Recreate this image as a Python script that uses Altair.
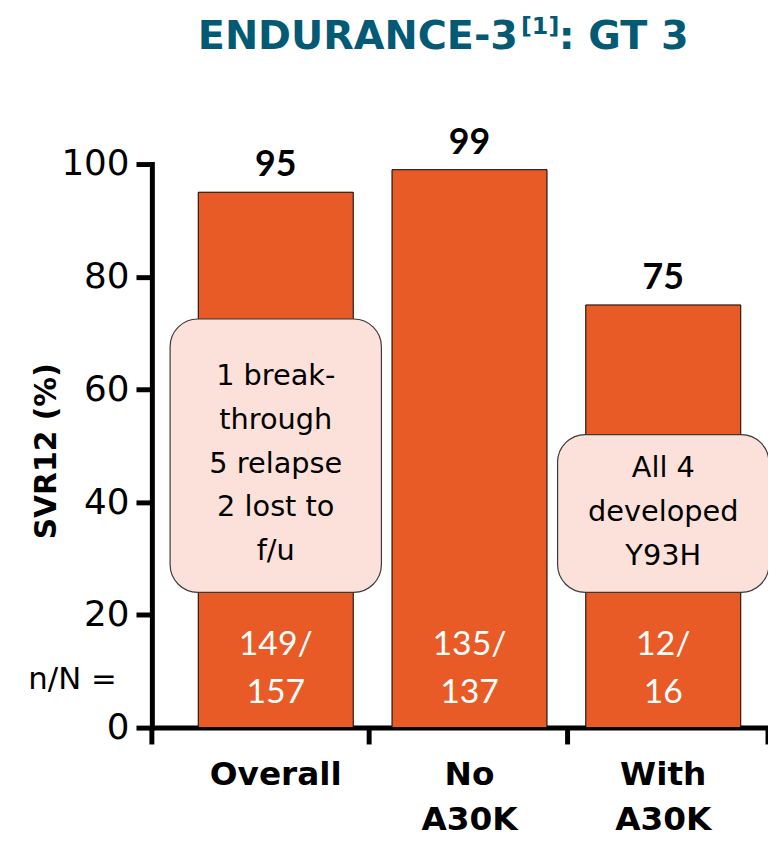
import altair as alt
import pandas as pd

# ---- data ----
categories = ["Overall", "No A30K", "With A30K"]
svr12 = [95, 99, 75]
n_resp = [149, 135, 12]
n_total = [157, 137, 16]

note_cats = ["Overall", "With A30K"]
note_lines = [["1 break-", "through", "5 relapse", "2 lost to", "f/u"],
              ["All 4", "developed", "Y93H"]]
note_low = [24, 24]
note_high = [72.5, 52]
note_first_line = [62.3, 46.0]

y_ticks = [0, 20, 40, 60, 80, 100]
title_parts = ["ENDURANCE-3", "[1]", ": GT 3"]
row_label = "n/N ="

# ---- styling ----
W, H = 621, 568
BAR = "#E85B26"
BOX_FILL = "#FBE1D9"
TEAL = "#035A74"
SANS = "DejaVu Sans"

bars_df = pd.DataFrame({
    "cat": categories,
    "svr": svr12,
    "nn": [[f"{a}/", f"{b}"] for a, b in zip(n_resp, n_total)],
})
notes_df = pd.DataFrame({
    "cat": note_cats, "lo": note_low, "hi": note_high,
    "first": note_first_line, "txt": note_lines,
})

xscale = alt.Scale(domain=categories, paddingInner=0.2, paddingOuter=0.19, align=0.63)
yscale = alt.Scale(domain=[0, 100], nice=False)

x_enc = alt.X("cat:N", scale=xscale, sort=categories, axis=alt.Axis(
    title=None, labelAngle=0, ticks=False, domainWidth=5, domainColor="black",
    domainCap="square", labelFont=SANS, labelFontWeight="bold", labelFontSize=33,
    labelColor="black", labelPadding=31, labelLineHeight=46,
    labelExpr="split(datum.label, ' ')", labelBaseline="top"))

y_enc = alt.Y("svr:Q", scale=yscale, axis=alt.Axis(
    values=y_ticks, title="SVR12 (%)", titleFont=SANS, titleFontSize=30,
    titleFontWeight="bold", titleColor="black", titleAngle=270, titleX=-106,
    titleY=289, titleAlign="center", titleBaseline="middle",
    labelFont=SANS, labelFontSize=36, labelColor="black", labelPadding=7,
    tickSize=16, tickWidth=5, tickColor="black", domainWidth=5,
    domainColor="black", domainCap="square", grid=False, labelOverlap=False))

base = alt.Chart(bars_df)

bars = base.mark_bar(color=BAR, stroke="black", strokeWidth=1).encode(x=x_enc, y=y_enc)

values = base.mark_text(font="Lato", fontWeight="bold", fontSize=36,
                        baseline="alphabetic", dy=-16, color="black").encode(
    x="cat:N", y="svr:Q", text="svr:Q")

inner = base.mark_text(font="Lato", fontSize=34, color="white", lineHeight=48,
                       baseline="middle").encode(
    x="cat:N", y=alt.datum(14.6), text="nn")

boxes = alt.Chart(notes_df).mark_bar(width=213, cornerRadius=28, fill=BOX_FILL,
                                     stroke="#3a3a3a", strokeWidth=1.2).encode(
    x="cat:N", y="lo:Q", y2="hi:Q")

box_text = alt.Chart(notes_df).mark_text(font=SANS, fontSize=29, lineHeight=44,
                                         baseline="middle", color="black").encode(
    x="cat:N", y="first:Q", text="txt")

nn_label = alt.Chart(pd.DataFrame({"t": [row_label]})).mark_text(
    font=SANS, fontSize=31, color="black", baseline="middle").encode(
    x=alt.value(-80), y=alt.value(520), text="t:N")

# x-axis tick marks at category boundaries (decoration)
tick_px = [0, 219, 419, 621]
ticks = [alt.Chart(pd.DataFrame({"k": [i]})).mark_rule(color="black", strokeWidth=5).encode(
    x=alt.value(p), y=alt.value(H), y2=alt.value(H + 17)) for i, p in enumerate(tick_px)]

t1 = alt.Chart(pd.DataFrame({"t": [title_parts[0]]})).mark_text(
    font=SANS, fontWeight="bold", fontSize=40, color=TEAL, align="right",
    baseline="alphabetic").encode(x=alt.value(369), y=alt.value(-116), text="t:N")
t2 = alt.Chart(pd.DataFrame({"t": [title_parts[1]]})).mark_text(
    font=SANS, fontWeight="bold", fontSize=24, color=TEAL, align="left",
    baseline="alphabetic").encode(x=alt.value(372), y=alt.value(-131), text="t:N")
t3 = alt.Chart(pd.DataFrame({"t": [title_parts[2]]})).mark_text(
    font=SANS, fontWeight="bold", fontSize=40, color=TEAL, align="left",
    baseline="alphabetic").encode(x=alt.value(410), y=alt.value(-116), text="t:N")

chart = alt.layer(bars, values, inner, boxes, box_text, nn_label, *ticks, t1, t2, t3).properties(
    width=W, height=H,
    autosize=alt.AutoSizeParams(type="none"),
    padding={"left": 145, "top": 154, "right": 0, "bottom": 110},
    background="white",
).configure_view(strokeWidth=0)

chart.save("out.html", embed_options={"renderer": "svg", "actions": False})
